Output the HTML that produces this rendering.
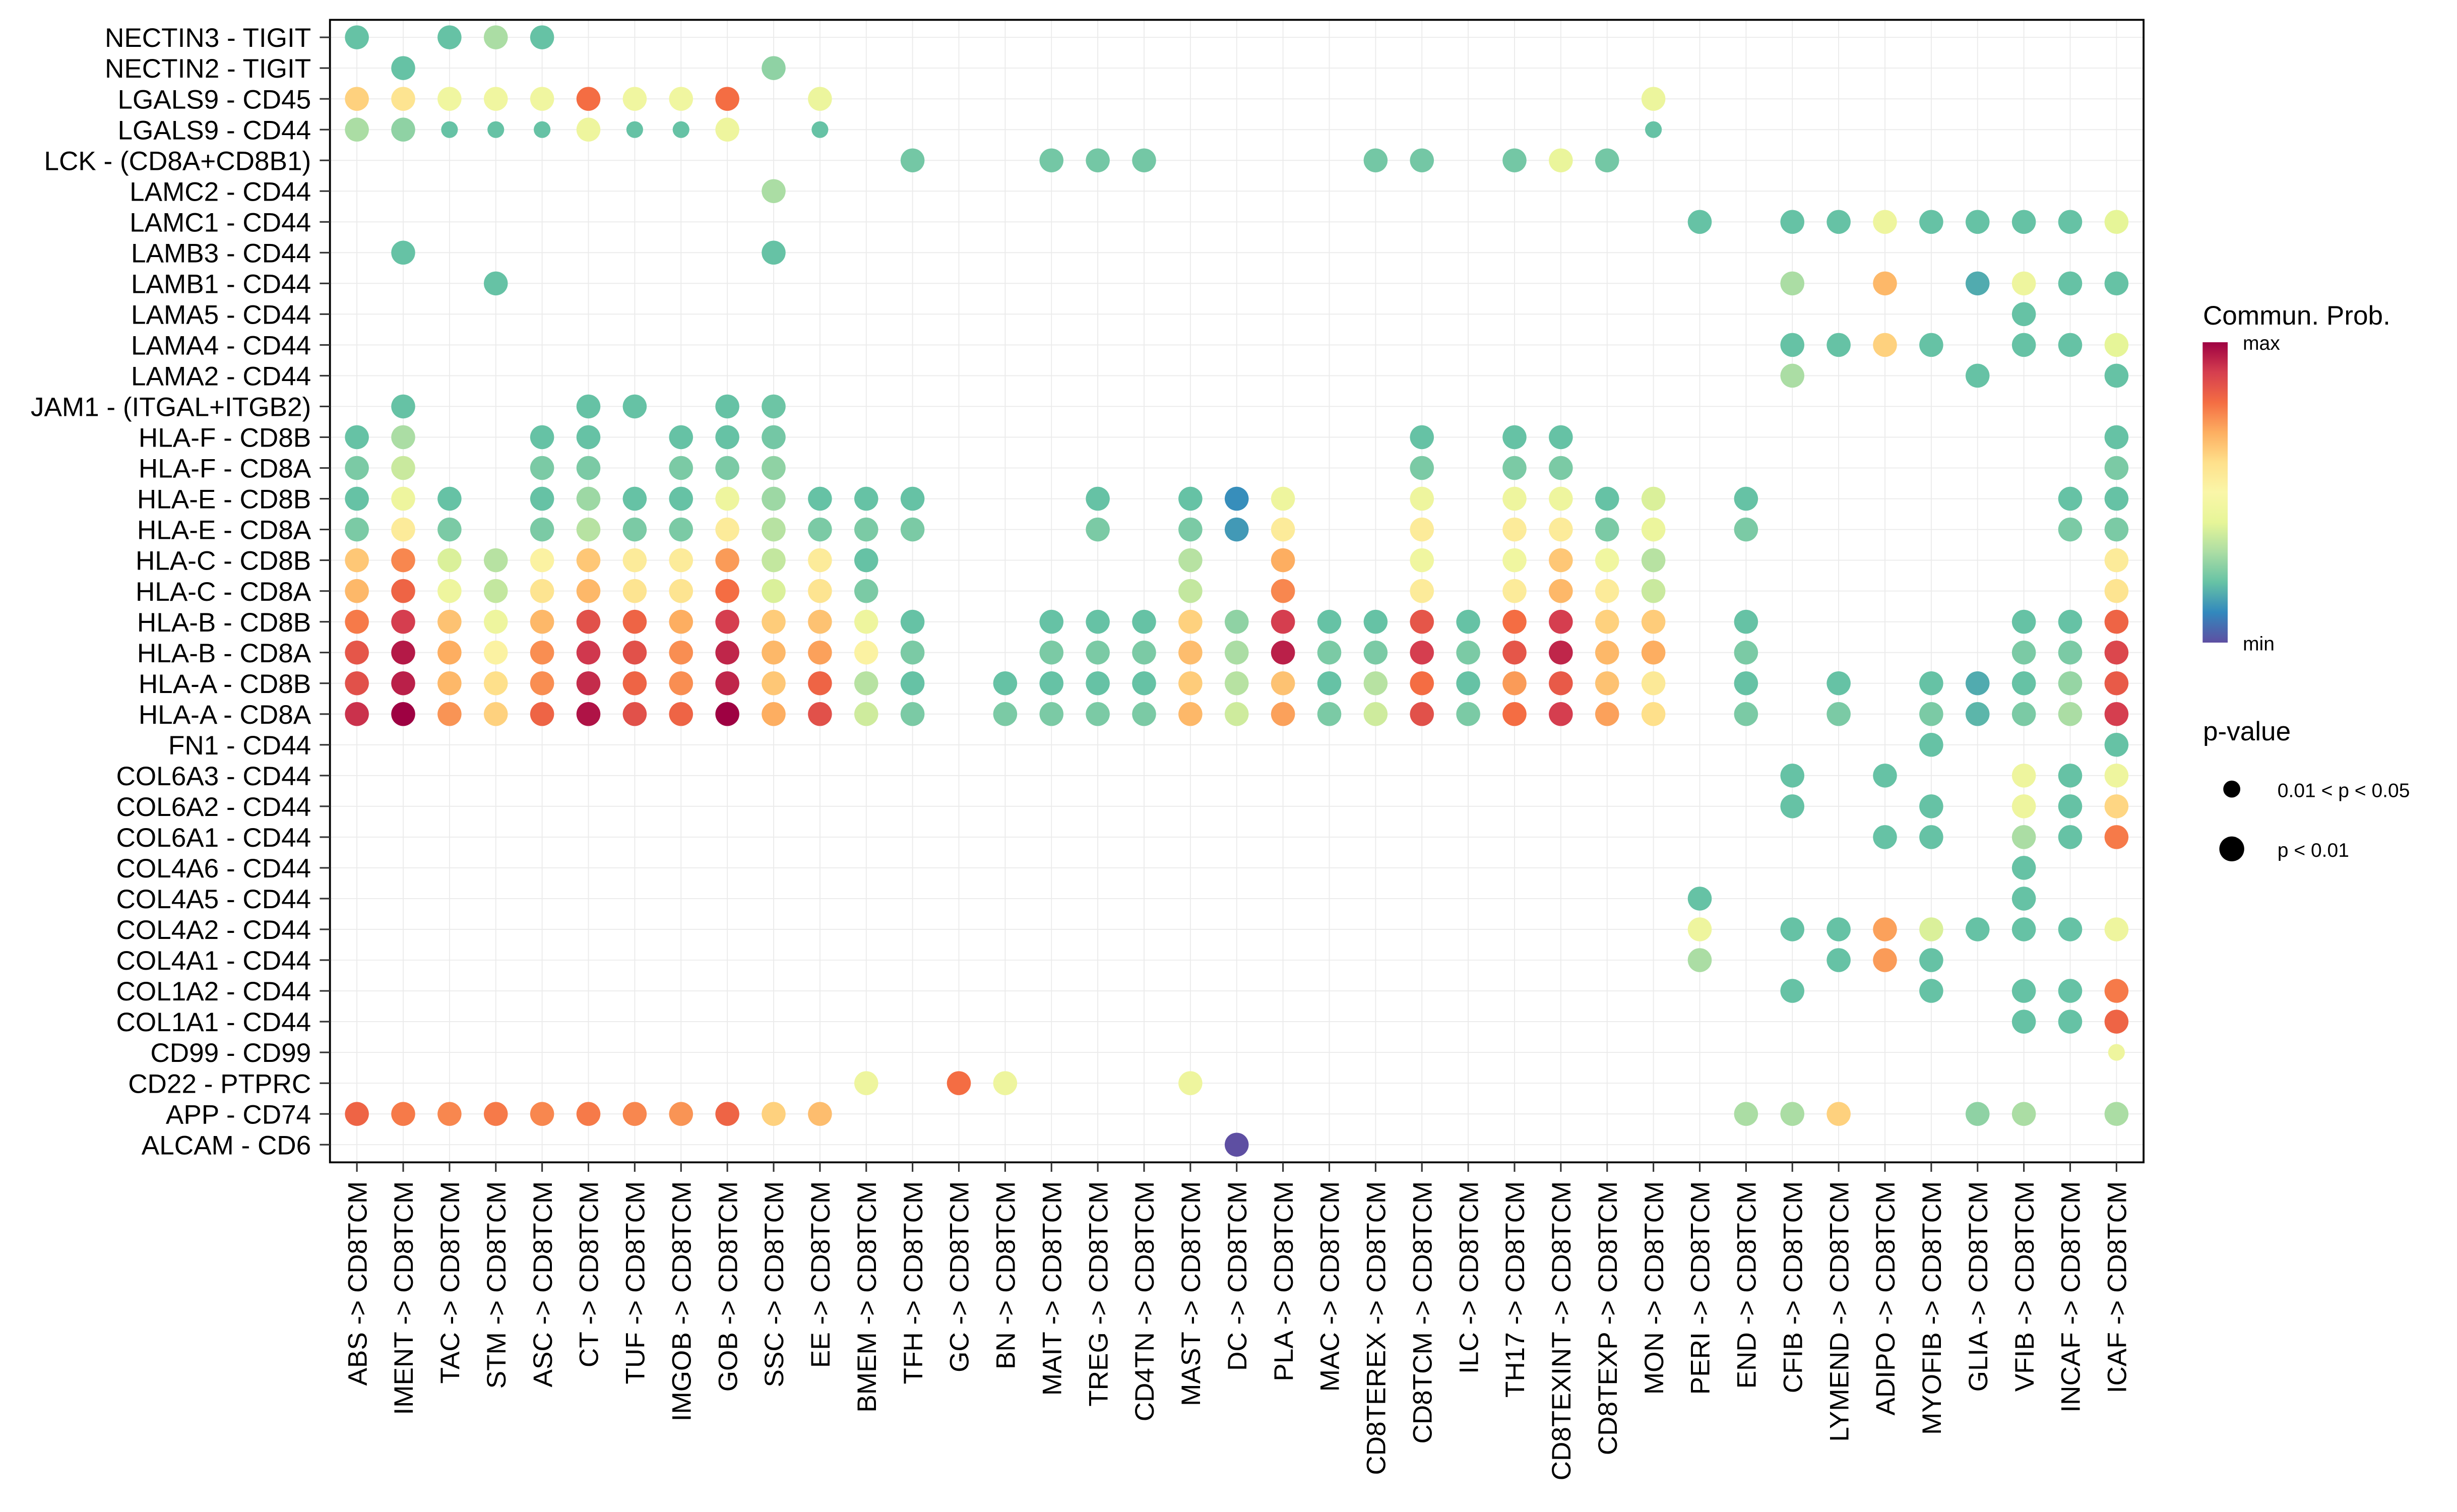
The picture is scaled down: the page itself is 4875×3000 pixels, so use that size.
<!DOCTYPE html>
<html><head><meta charset="utf-8"><style>
html,body{margin:0;padding:0;background:#fff;}
svg{display:block;font-family:"Liberation Sans",sans-serif;}
</style></head><body>
<svg id="chart" xmlns="http://www.w3.org/2000/svg" width="4875" height="3000" viewBox="0 0 1560 960">
<rect x="0" y="0" width="1560" height="960" fill="#fff"/>
<g id="grid"></g>
<g id="dots"></g>
<rect x="209.5" y="12.6" width="1151.5" height="725.4" fill="none" stroke="#000" stroke-width="1.2"/>
<g id="yaxis"></g>
<g id="xaxis"></g>
<g id="legend">
  <defs>
    <linearGradient id="spec" x1="0" y1="1" x2="0" y2="0">
      <stop offset="0" stop-color="#5E4FA2"/><stop offset="0.1" stop-color="#3288BD"/>
      <stop offset="0.2" stop-color="#66C2A5"/><stop offset="0.3" stop-color="#ABDDA4"/>
      <stop offset="0.4" stop-color="#E6F598"/><stop offset="0.5" stop-color="#FAF6A8"/>
      <stop offset="0.6" stop-color="#FEE08B"/><stop offset="0.7" stop-color="#FDAE61"/>
      <stop offset="0.8" stop-color="#F46D43"/><stop offset="0.9" stop-color="#D53E4F"/>
      <stop offset="1" stop-color="#9E0142"/>
    </linearGradient>
  </defs>
  <text x="1398.7" y="206" font-size="17">Commun. Prob.</text>
  <rect x="1398.5" y="217.3" width="15.9" height="190.7" fill="url(#spec)"/>
  <text x="1424" y="222" font-size="12.5">max</text>
  <text x="1424" y="413" font-size="12.5">min</text>
  <text x="1398.7" y="470" font-size="17">p-value</text>
  <circle cx="1417" cy="501" r="5.4" fill="#000"/>
  <text x="1446" y="506" font-size="12.5">0.01 &lt; p &lt; 0.05</text>
  <circle cx="1417" cy="539" r="7.9" fill="#000"/>
  <text x="1446" y="544" font-size="12.5">p &lt; 0.01</text>
</g>
</svg>
<script>
const rowLabels = ["NECTIN3 - TIGIT","NECTIN2 - TIGIT","LGALS9 - CD45","LGALS9 - CD44","LCK - (CD8A+CD8B1)","LAMC2 - CD44","LAMC1 - CD44","LAMB3 - CD44","LAMB1 - CD44","LAMA5 - CD44","LAMA4 - CD44","LAMA2 - CD44","JAM1 - (ITGAL+ITGB2)","HLA-F - CD8B","HLA-F - CD8A","HLA-E - CD8B","HLA-E - CD8A","HLA-C - CD8B","HLA-C - CD8A","HLA-B - CD8B","HLA-B - CD8A","HLA-A - CD8B","HLA-A - CD8A","FN1 - CD44","COL6A3 - CD44","COL6A2 - CD44","COL6A1 - CD44","COL4A6 - CD44","COL4A5 - CD44","COL4A2 - CD44","COL4A1 - CD44","COL1A2 - CD44","COL1A1 - CD44","CD99 - CD99","CD22 - PTPRC","APP - CD74","ALCAM - CD6"];
const senders = ["ABS","IMENT","TAC","STM","ASC","CT","TUF","IMGOB","GOB","SSC","EE","BMEM","TFH","GC","BN","MAIT","TREG","CD4TN","MAST","DC","PLA","MAC","CD8TEREX","CD8TCM","ILC","TH17","CD8TEXINT","CD8TEXP","MON","PERI","END","CFIB","LYMEND","ADIPO","MYOFIB","GLIA","VFIB","INCAF","ICAF"];
const receiver = "CD8TCM";
// per-row "colIndex:probLevel(0-10)" entries; suffix s = 0.01<p<0.05
const rowValues = [
"0:2 2:2 3:3 4:2",
"1:2 9:2.6",
"0:6.3 1:5.8 2:4.5 3:4.5 4:4.5 5:8 6:4.5 7:4.5 8:8 10:4.3 28:4.3",
"0:3 1:2.6 2:2s 3:2s 4:2s 5:4.4 6:2s 7:2s 8:4.4 10:2s 28:2s",
"12:2.2 15:2.2 16:2.2 17:2.2 22:2.2 23:2.2 25:2.2 26:4.2 27:2.2",
"9:3",
"29:2 31:2 32:2 33:4.4 34:2 35:2 36:2 37:2 38:4",
"1:2 9:2",
"3:2 31:3 33:6.8 35:1.6 36:4.4 37:2 38:2",
"36:2",
"31:2 32:2 33:6.3 34:2 36:2 37:2 38:4",
"31:3 35:2 38:2",
"1:2 5:2 6:2 8:2 9:2.1",
"0:2 1:3 4:2 5:2 7:2 8:2 9:2.2 23:2 25:2 26:2 38:2",
"0:2.3 1:3.5 4:2.3 5:2.3 7:2.3 8:2.3 9:2.6 23:2.3 25:2.3 26:2.3 38:2.3",
"0:2 1:4.4 2:2 4:2 5:2.8 6:2 7:2 8:4.4 9:2.8 10:2 11:2 12:2 16:2 18:2 19:1.1 20:4.4 23:4.4 25:4.4 26:4.4 27:2 28:3.8 30:2 37:2 38:2",
"0:2.3 1:5.5 2:2.3 4:2.3 5:3.2 6:2.3 7:2.3 8:5.5 9:3.2 10:2.3 11:2.3 12:2.3 16:2.3 18:2.3 19:1.3 20:5.5 23:5.5 25:5.5 26:5.5 27:2.3 28:4.3 30:2.3 37:2.3 38:2.3",
"0:6.5 1:7.6 2:3.8 3:3.2 4:5.2 5:6.5 6:5.5 7:5.5 8:7.3 9:3.4 10:5.5 11:2 18:3.2 20:7 23:4.5 25:4.5 26:6.5 27:4.5 28:3.2 38:5.5",
"0:6.8 1:8.2 2:4.4 3:3.4 4:5.8 5:6.8 6:5.8 7:5.8 8:8 9:3.8 10:5.8 11:2.3 18:3.4 20:7.6 23:5.5 25:5.5 26:6.8 27:5.5 28:3.5 38:5.8",
"0:7.8 1:9 2:6.6 3:4.4 4:6.8 5:8.6 6:8.2 7:7 8:9 9:6.4 10:6.6 11:4.4 12:2 15:2 16:2 17:2 18:6.3 19:2.6 20:9 21:2 22:2 23:8.5 24:2 25:8 26:9 27:6.3 28:6.4 30:2 36:2 37:2 38:8.2",
"0:8.5 1:9.6 2:7 3:5.2 4:7.5 5:9.1 6:8.6 7:7.5 8:9.4 9:6.8 10:7.2 11:5.2 12:2.3 15:2.3 16:2.3 17:2.3 18:6.7 19:3 20:9.5 21:2.3 22:2.3 23:9 24:2.3 25:8.5 26:9.4 27:6.8 28:7 30:2.3 36:2.3 37:2.3 38:8.8",
"0:8.6 1:9.5 2:6.8 3:6 4:7.5 5:9.3 6:8.2 7:7.5 8:9.4 9:6.5 10:8.2 11:3.2 12:2 14:2 15:2 16:2 17:2 18:6.4 19:3.2 20:6.6 21:2 22:3.2 23:8 24:2 25:7.3 26:8.4 27:6.6 28:5.6 30:2 32:2 34:2 35:1.6 36:2 37:2.7 38:8.4",
"0:9.2 1:10 2:7.4 3:6.3 4:8.2 5:9.7 6:8.6 7:8.2 8:10 9:7 10:8.6 11:3.6 12:2.3 14:2.3 15:2.3 16:2.3 17:2.3 18:6.8 19:3.6 20:7.2 21:2.3 22:3.6 23:8.6 24:2.3 25:8 26:9 27:7.2 28:6 30:2.3 32:2.3 34:2.3 35:1.8 36:2.3 37:3 38:9",
"34:2 38:2",
"31:2 33:2 36:4.4 37:2 38:4.4",
"31:2 34:2 36:4.4 37:2 38:6.2",
"33:2 34:2 36:3 37:2 38:7.8",
"36:2",
"29:2 36:2",
"29:4.4 31:2 32:2 33:7.2 34:3.8 35:2 36:2 37:2 38:4.4",
"29:3 32:2 33:7.3 34:2",
"31:2 34:2 36:2 37:2 38:7.8",
"36:2 37:2 38:8.2",
"38:4.4s",
"11:4.4 13:8 14:4.4 18:4.4",
"0:8.2 1:7.8 2:7.6 3:7.8 4:7.6 5:7.8 6:7.6 7:7.4 8:8.2 9:6.3 10:6.7 30:3 31:3 32:6.3 35:2.6 36:3 38:3",
"19:0"
];

const NS = "http://www.w3.org/2000/svg";
const X0 = 226.6, DX = 29.4, Y0 = 23.7, DY = 19.53;
const PL = 209.5, PR = 1361, PT = 12.6, PB = 738;
function xScale(i){ return X0 + i*DX; }
function yScale(i){ return Y0 + i*DY; }
const stops = ["#5E4FA2","#3288BD","#66C2A5","#ABDDA4","#E6F598","#FAF6A8","#FEE08B","#FDAE61","#F46D43","#D53E4F","#9E0142"];
function hex(h){ return [parseInt(h.substr(1,2),16),parseInt(h.substr(3,2),16),parseInt(h.substr(5,2),16)]; }
function colorScale(v){
  let t = Math.max(0, Math.min(10, v)); let i = Math.min(9, Math.floor(t)); let f = t - i;
  const a = hex(stops[i]), b = hex(stops[i+1]);
  return "rgb(" + a.map((c,k)=>Math.round(c+(b[k]-c)*f)).join(",") + ")";
}
function sizeScale(small){ return small ? 5.3 : 7.6; }
function mk(tag, attrs){ const e = document.createElementNS(NS, tag); for (const k in attrs) e.setAttribute(k, attrs[k]); return e; }

const grid = document.getElementById("grid");
rowLabels.forEach((r,i)=>{
  const l = mk("line",{x1:PL,x2:PR,y1:yScale(i),y2:yScale(i),stroke:"#EBEBEB","stroke-width":0.6});
  
  
  grid.appendChild(l);
});
senders.forEach((s,i)=>{
  const l = mk("line",{x1:xScale(i),x2:xScale(i),y1:PT,y2:PB,stroke:"#EBEBEB","stroke-width":0.6});
  
  
  grid.appendChild(l);
});

const yax = document.getElementById("yaxis");
rowLabels.forEach((r,i)=>{
  const t = mk("text",{x:197.5,y:yScale(i),dy:"0.36em","text-anchor":"end","font-size":17});
  t.textContent = r;
  
  
  yax.appendChild(t);
  const tk = mk("line",{x1:203,x2:PL,y1:yScale(i),y2:yScale(i),stroke:"#333","stroke-width":1});
  
  
  yax.appendChild(tk);
});
const xax = document.getElementById("xaxis");
senders.forEach((s,i)=>{
  const x = xScale(i);
  const tk = mk("line",{x1:x,x2:x,y1:PB,y2:744,stroke:"#333","stroke-width":1});
  
  
  xax.appendChild(tk);
  const t = mk("text",{x:x,y:750,dy:"0.36em","text-anchor":"end","font-size":17,transform:"rotate(-90 "+x+" 750)"});
  t.textContent = s + " -> " + receiver;
  
  
  xax.appendChild(t);
});

const dots = document.getElementById("dots");
rowValues.forEach((str,ri)=>{
  str.split(" ").filter(Boolean).forEach(tok=>{
    const parts = tok.split(":");
    const ci = parseInt(parts[0]);
    const small = parts[1].endsWith("s");
    const v = parseFloat(parts[1]);
    const c = mk("circle",{cx:xScale(ci),cy:yScale(ri),r:sizeScale(small),fill:colorScale(v)});
    
    
    dots.appendChild(c);
  });
});
</script>
</body></html>
